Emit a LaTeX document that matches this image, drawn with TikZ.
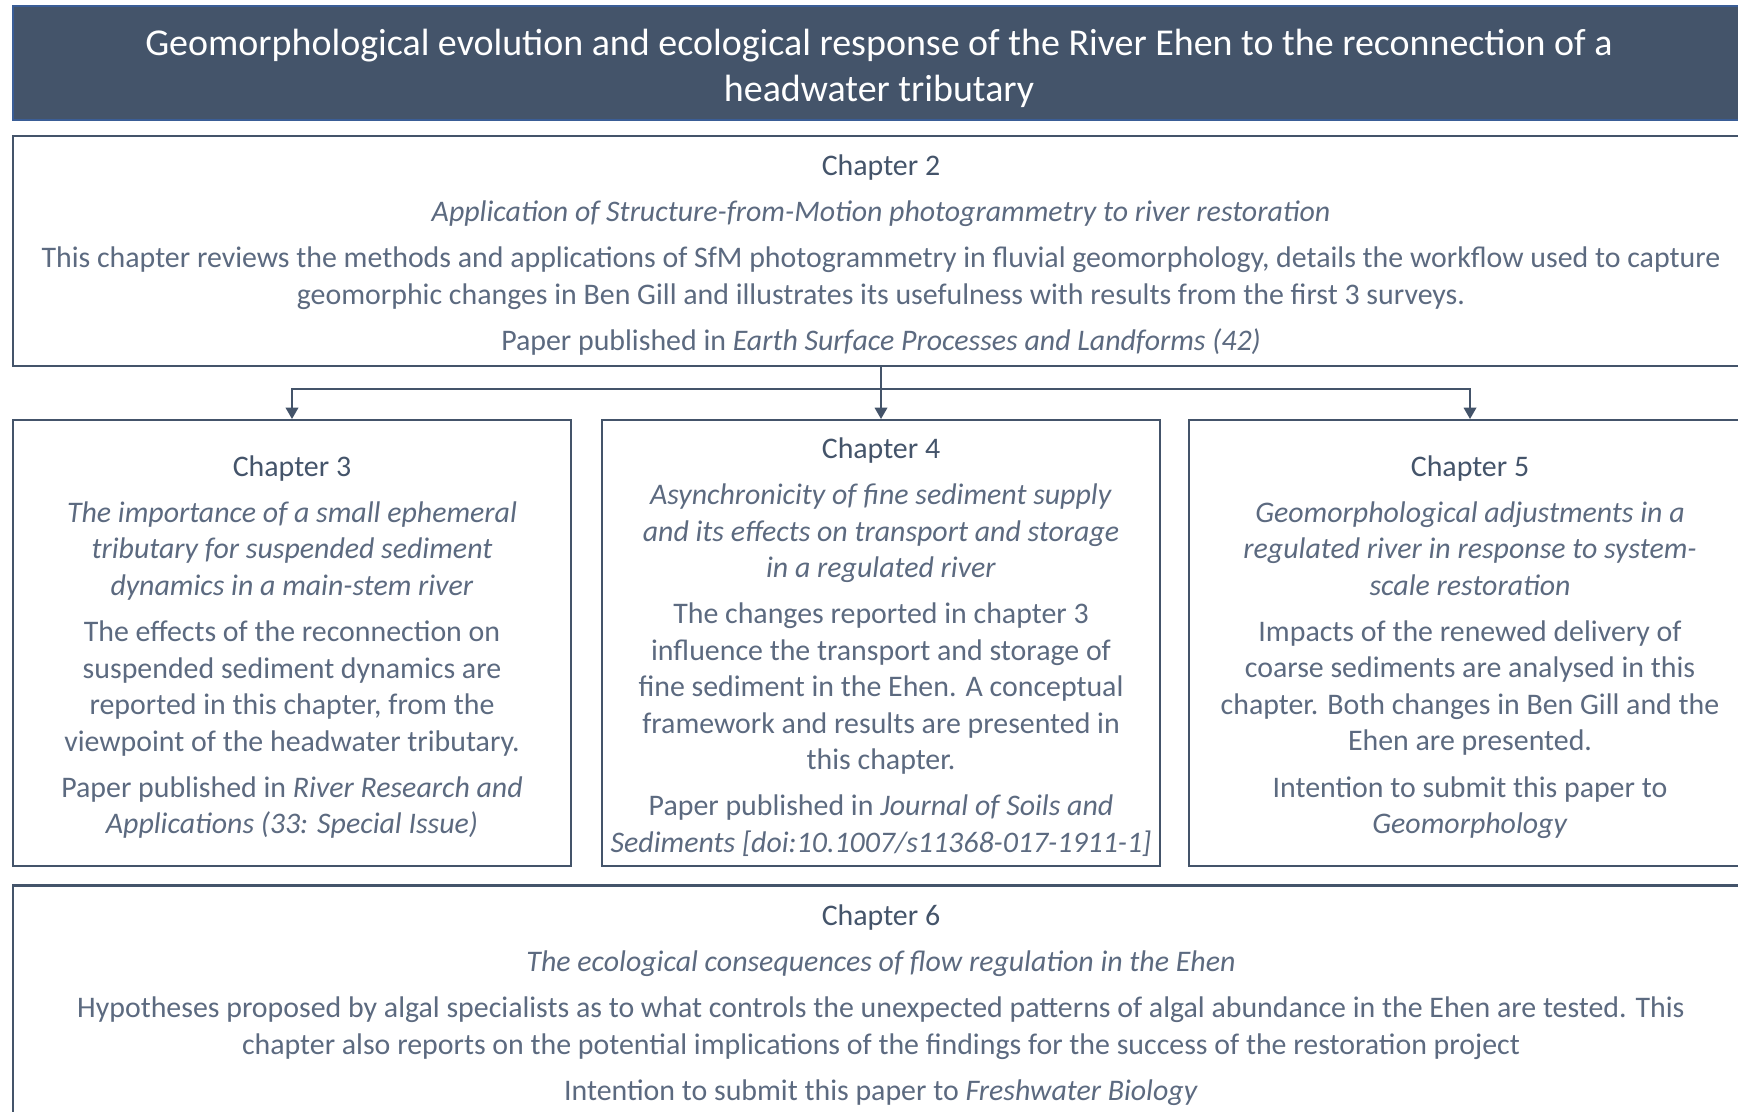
\documentclass[tikz,border=0pt]{standalone}
\usepackage{fontspec}
\setmainfont{Carlito}
\usetikzlibrary{arrows.meta}

\definecolor{slate}{HTML}{44546A}
\definecolor{slatelight}{HTML}{5C6A80}
\definecolor{titleline}{HTML}{3A5D96}

\tikzset{
  chapbox/.style={draw=slate, line width=0.6pt, fill=white, align=center,
    text=slatelight, inner sep=0pt, font=\fontsize{8.5}{10.4}\selectfont},
  flow/.style={draw=slate, line width=0.4pt, -{Triangle[length=3.2pt,width=3.6pt]}}
}
\newcommand{\chapname}[1]{\rule{0pt}{8.2pt}{\color{slate}#1}}

\begin{document}
\begin{tikzpicture}
\useasboundingbox (0,0) rectangle (17.38,-11.11);
\clip (0,0) rectangle (17.38,-11.11);
% title bar
\node[fill=slate, draw=titleline, line width=0.3pt, minimum width=17.32cm, minimum height=1.14cm,
  text=white, align=center, font=\fontsize{10.8}{13.2}\selectfont] (title) at (8.79,-0.63)
  {\rule{0pt}{10.6pt}Geomorphological evolution and ecological response of the River Ehen to the reconnection of a\\
   headwater tributary};
% chapter 2
\node[chapbox, minimum width=17.36cm, minimum height=2.30cm] (ch2) at (8.81,-2.51)
  {\chapname{Chapter 2}\\[2.7pt]
   \textit{Application of Structure-from-Motion photogrammetry to river restoration}\\[2.7pt]
   This chapter reviews the methods and applications of SfM photogrammetry in fluvial geomorphology, details the workflow used to capture\\
   geomorphic changes in Ben Gill and illustrates its usefulness with results from the first 3 surveys.\\[2.7pt]
   Paper published in \textit{Earth Surface Processes and Landforms (42)}};
% chapters 3 4 5
\node[chapbox, minimum width=5.58cm, minimum height=4.46cm] (ch3) at (2.92,-6.43)
  {\chapname{Chapter 3}\\[2.7pt]
   \textit{The importance of a small ephemeral}\\
   \textit{tributary for suspended sediment}\\
   \textit{dynamics in a main-stem river}\\[2.7pt]
   The effects of the reconnection on\\
   suspended sediment dynamics are\\
   reported in this chapter, from the\\
   viewpoint of the headwater tributary.\\[2.7pt]
   Paper published in \textit{River Research and}\\
   \textit{Applications (33: Special Issue)}};
\node[chapbox, minimum width=5.585cm, minimum height=4.46cm] (ch4) at (8.81,-6.43)
  {\chapname{Chapter 4}\\[2.7pt]
   \textit{Asynchronicity of fine sediment supply}\\
   \textit{and its effects on transport and storage}\\
   \textit{in a regulated river}\\[2.7pt]
   The changes reported in chapter 3\\
   influence the transport and storage of\\
   fine sediment in the Ehen. A conceptual\\
   framework and results are presented in\\
   this chapter.\\[2.7pt]
   Paper published in \textit{Journal of Soils and}\\
   \textit{Sediments [doi:10.1007/s11368-017-1911-1]}};
\node[chapbox, minimum width=5.62cm, minimum height=4.46cm] (ch5) at (14.70,-6.43)
  {\chapname{Chapter 5}\\[2.7pt]
   \textit{Geomorphological adjustments in a}\\
   \textit{regulated river in response to system-}\\
   \textit{scale restoration}\\[2.7pt]
   Impacts of the renewed delivery of\\
   coarse sediments are analysed in this\\
   chapter. Both changes in Ben Gill and the\\
   Ehen are presented.\\[2.7pt]
   Intention to submit this paper to\\
   \textit{Geomorphology}};
% chapter 6
\node[chapbox, minimum width=17.36cm, minimum height=2.31cm] (ch6) at (8.81,-10.01)
  {\chapname{Chapter 6}\\[2.7pt]
   \textit{The ecological consequences of flow regulation in the Ehen}\\[2.7pt]
   Hypotheses proposed by algal specialists as to what controls the unexpected patterns of algal abundance in the Ehen are tested. This\\
   chapter also reports on the potential implications of the findings for the success of the restoration project\\[2.7pt]
   Intention to submit this paper to \textit{Freshwater Biology}};
% arrows
\coordinate (fork) at (8.81,-3.89);
\draw[flow] (ch2.south) -- (ch4.north);
\draw[flow] (fork) -| (ch3.north);
\draw[flow] (fork) -| (ch5.north);
\end{tikzpicture}
\end{document}
